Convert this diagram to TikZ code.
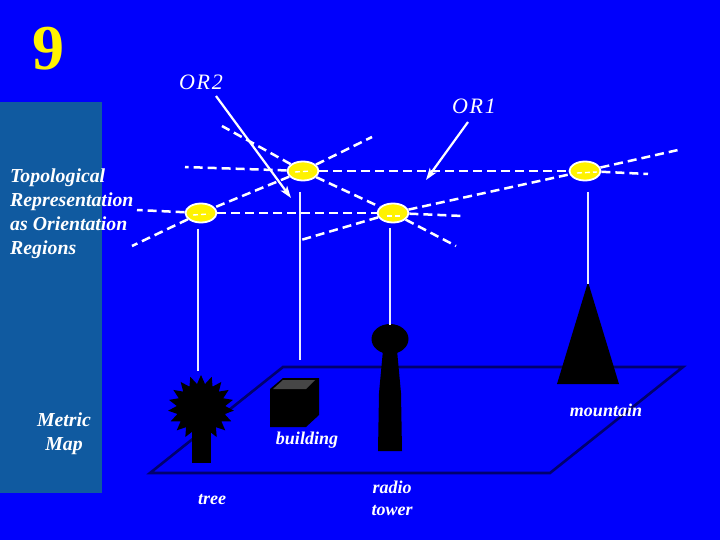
\documentclass[tikz,border=0pt]{standalone}
\usepackage{fontspec}
\setmainfont{Liberation Serif}
\usetikzlibrary{shapes.geometric,arrows.meta}
\definecolor{bgblue}{RGB}{0,0,252}
\definecolor{panel}{RGB}{16,90,160}
\definecolor{navy}{RGB}{0,0,110}
\definecolor{roof}{RGB}{70,70,70}
\tikzset{
 x=1pt,y=-1pt,
 orient/.style={ellipse,draw=white,line width=1.8pt,fill=yellow,minimum width=31pt,minimum height=19pt,inner sep=0pt},
 dashline/.style={white,line width=2.5pt,dash pattern=on 9pt off 5pt},
 stem/.style={white!92!blue,line width=2.6pt},
 pointer/.style={white,line width=2.2pt,-{Stealth[length=12pt,width=8pt,inset=3pt]}},
 lab/.style={white,font=\fontsize{18}{22}\selectfont\bfseries\itshape,align=center,inner sep=0pt},
 panellab/.style={white,font=\fontsize{19.8}{24}\selectfont\bfseries\itshape,inner sep=0pt},
 orlab/.style={white,font=\fontsize{22}{26}\selectfont\itshape\addfontfeature{LetterSpace=8},inner sep=0pt}
}
\begin{document}
\begin{tikzpicture}
\useasboundingbox (0,0) rectangle (720,540);
\fill[bgblue] (0,0) rectangle (720,540);
\fill[panel] (0,102) rectangle (102,493);
% plane
\draw[navy,line width=2.6pt,line join=miter] (150,473) -- (283,367) -- (683,367) -- (550,473) -- cycle;
% orientation nodes
\node[orient] (top) at (303,171) {};
\node[orient] (left) at (201,213) {};
\node[orient] (mid) at (393,213) {};
\node[orient] (right) at (585,171) {};
% free ends
\coordinate (t1) at (222,126);
\coordinate (t2) at (372,137);
\coordinate (t3) at (185,167);
\coordinate (l1) at (137,210);
\coordinate (l2) at (132,246);
\coordinate (m1) at (301,240);
\coordinate (m2) at (463,216);
\coordinate (m3) at (456,246);
\coordinate (r1) at (678,150);
\coordinate (r2) at (648,174);
\draw[dashline] (top) -- (t1);
\draw[dashline] (top) -- (t2);
\draw[dashline] (top) -- (t3);
\draw[dashline] (top) -- (right);
\draw[dashline] (top) -- (left);
\draw[dashline] (top) -- (mid);
\draw[dashline] (left) -- (l1);
\draw[dashline] (left) -- (l2);
\draw[dashline] (left) -- (mid);
\draw[dashline] (mid) -- (m1);
\draw[dashline] (mid) -- (m2);
\draw[dashline] (mid) -- (m3);
\draw[dashline] (mid) -- (right);
\draw[dashline] (right) -- (r1);
\draw[dashline] (right) -- (r2);
% white flecks inside the nodes
\draw[white,line width=1.4pt,dash pattern=on 5pt off 3pt] (top.center) ++(-8,1) -- ++(16,-1);
\draw[white,line width=1.4pt,dash pattern=on 5pt off 3pt] (left.center) ++(-8,2) -- ++(16,-1);
\draw[white,line width=1.4pt,dash pattern=on 5pt off 3pt] (mid.center) ++(-6,3) -- ++(14,0);
\draw[white,line width=1.4pt,dash pattern=on 5pt off 3pt] (right.center) ++(-8,2) -- ++(20,-1);
% landmarks
\node[star,star points=19,star point ratio=1.36,fill=black,inner sep=0pt,minimum size=66pt] (treetop) at (201,408) {};
\fill[black] (192,425) rectangle (211,463);
\fill[black] (270,389) -- (283,378) -- (319,378) -- (319,415) -- (306,427) -- (270,427) -- cycle;
\fill[roof] (273,389) -- (283,380) -- (315,380) -- (306,389) -- cycle;
\node[ellipse,fill=black,minimum width=37pt,minimum height=30pt,inner sep=0pt] (ball) at (390,339) {};
\fill[black] (383,350) -- (397,350) -- (401,393) -- (402,451) -- (378,451) -- (379,393) -- cycle;
\fill[black] (588,282) -- (619,384) -- (557,384) -- cycle;
% stems
\coordinate (s1) at (198,371);
\coordinate (s2) at (300,360);
\coordinate (s3) at (390,325);
\coordinate (s4) at (588,284);
\coordinate (s1t) at (198,229);
\coordinate (s2t) at (300,192);
\coordinate (s3t) at (390,228);
\coordinate (s4t) at (588,192);
\draw[stem] (s1t) -- (s1);
\draw[stem] (s2t) -- (s2);
\draw[stem] (s3t) -- (s3);
\draw[stem] (s4t) -- (s4);
% labels
\node[yellow,font=\fontsize{64}{64}\selectfont\bfseries,inner sep=0pt] (num) at (48,49) {9};
\node[orlab] (or2) at (201,82) {OR2};
\node[orlab] (or1) at (474,106) {OR1};
\coordinate (a2s) at (216,96);
\coordinate (a2e) at (291,198);
\coordinate (a1s) at (468,122);
\coordinate (a1e) at (426,180);
\draw[pointer] (a2s) -- (a2e);
\draw[pointer] (a1s) -- (a1e);
\node[panellab,align=left,anchor=north west] (topo) at (10,169) {Topological\\Representation\\as Orientation\\Regions};
\node[panellab,align=center] (metric) at (64,434) {Metric\\Map};
\node[lab] (m) at (606,410) {mountain};
\node[lab] (b) at (307,440) {building};
\node[lab] (tr) at (212,500) {tree};
\node[lab] (rt) at (392,498) {radio\\tower};
\end{tikzpicture}
\end{document}
